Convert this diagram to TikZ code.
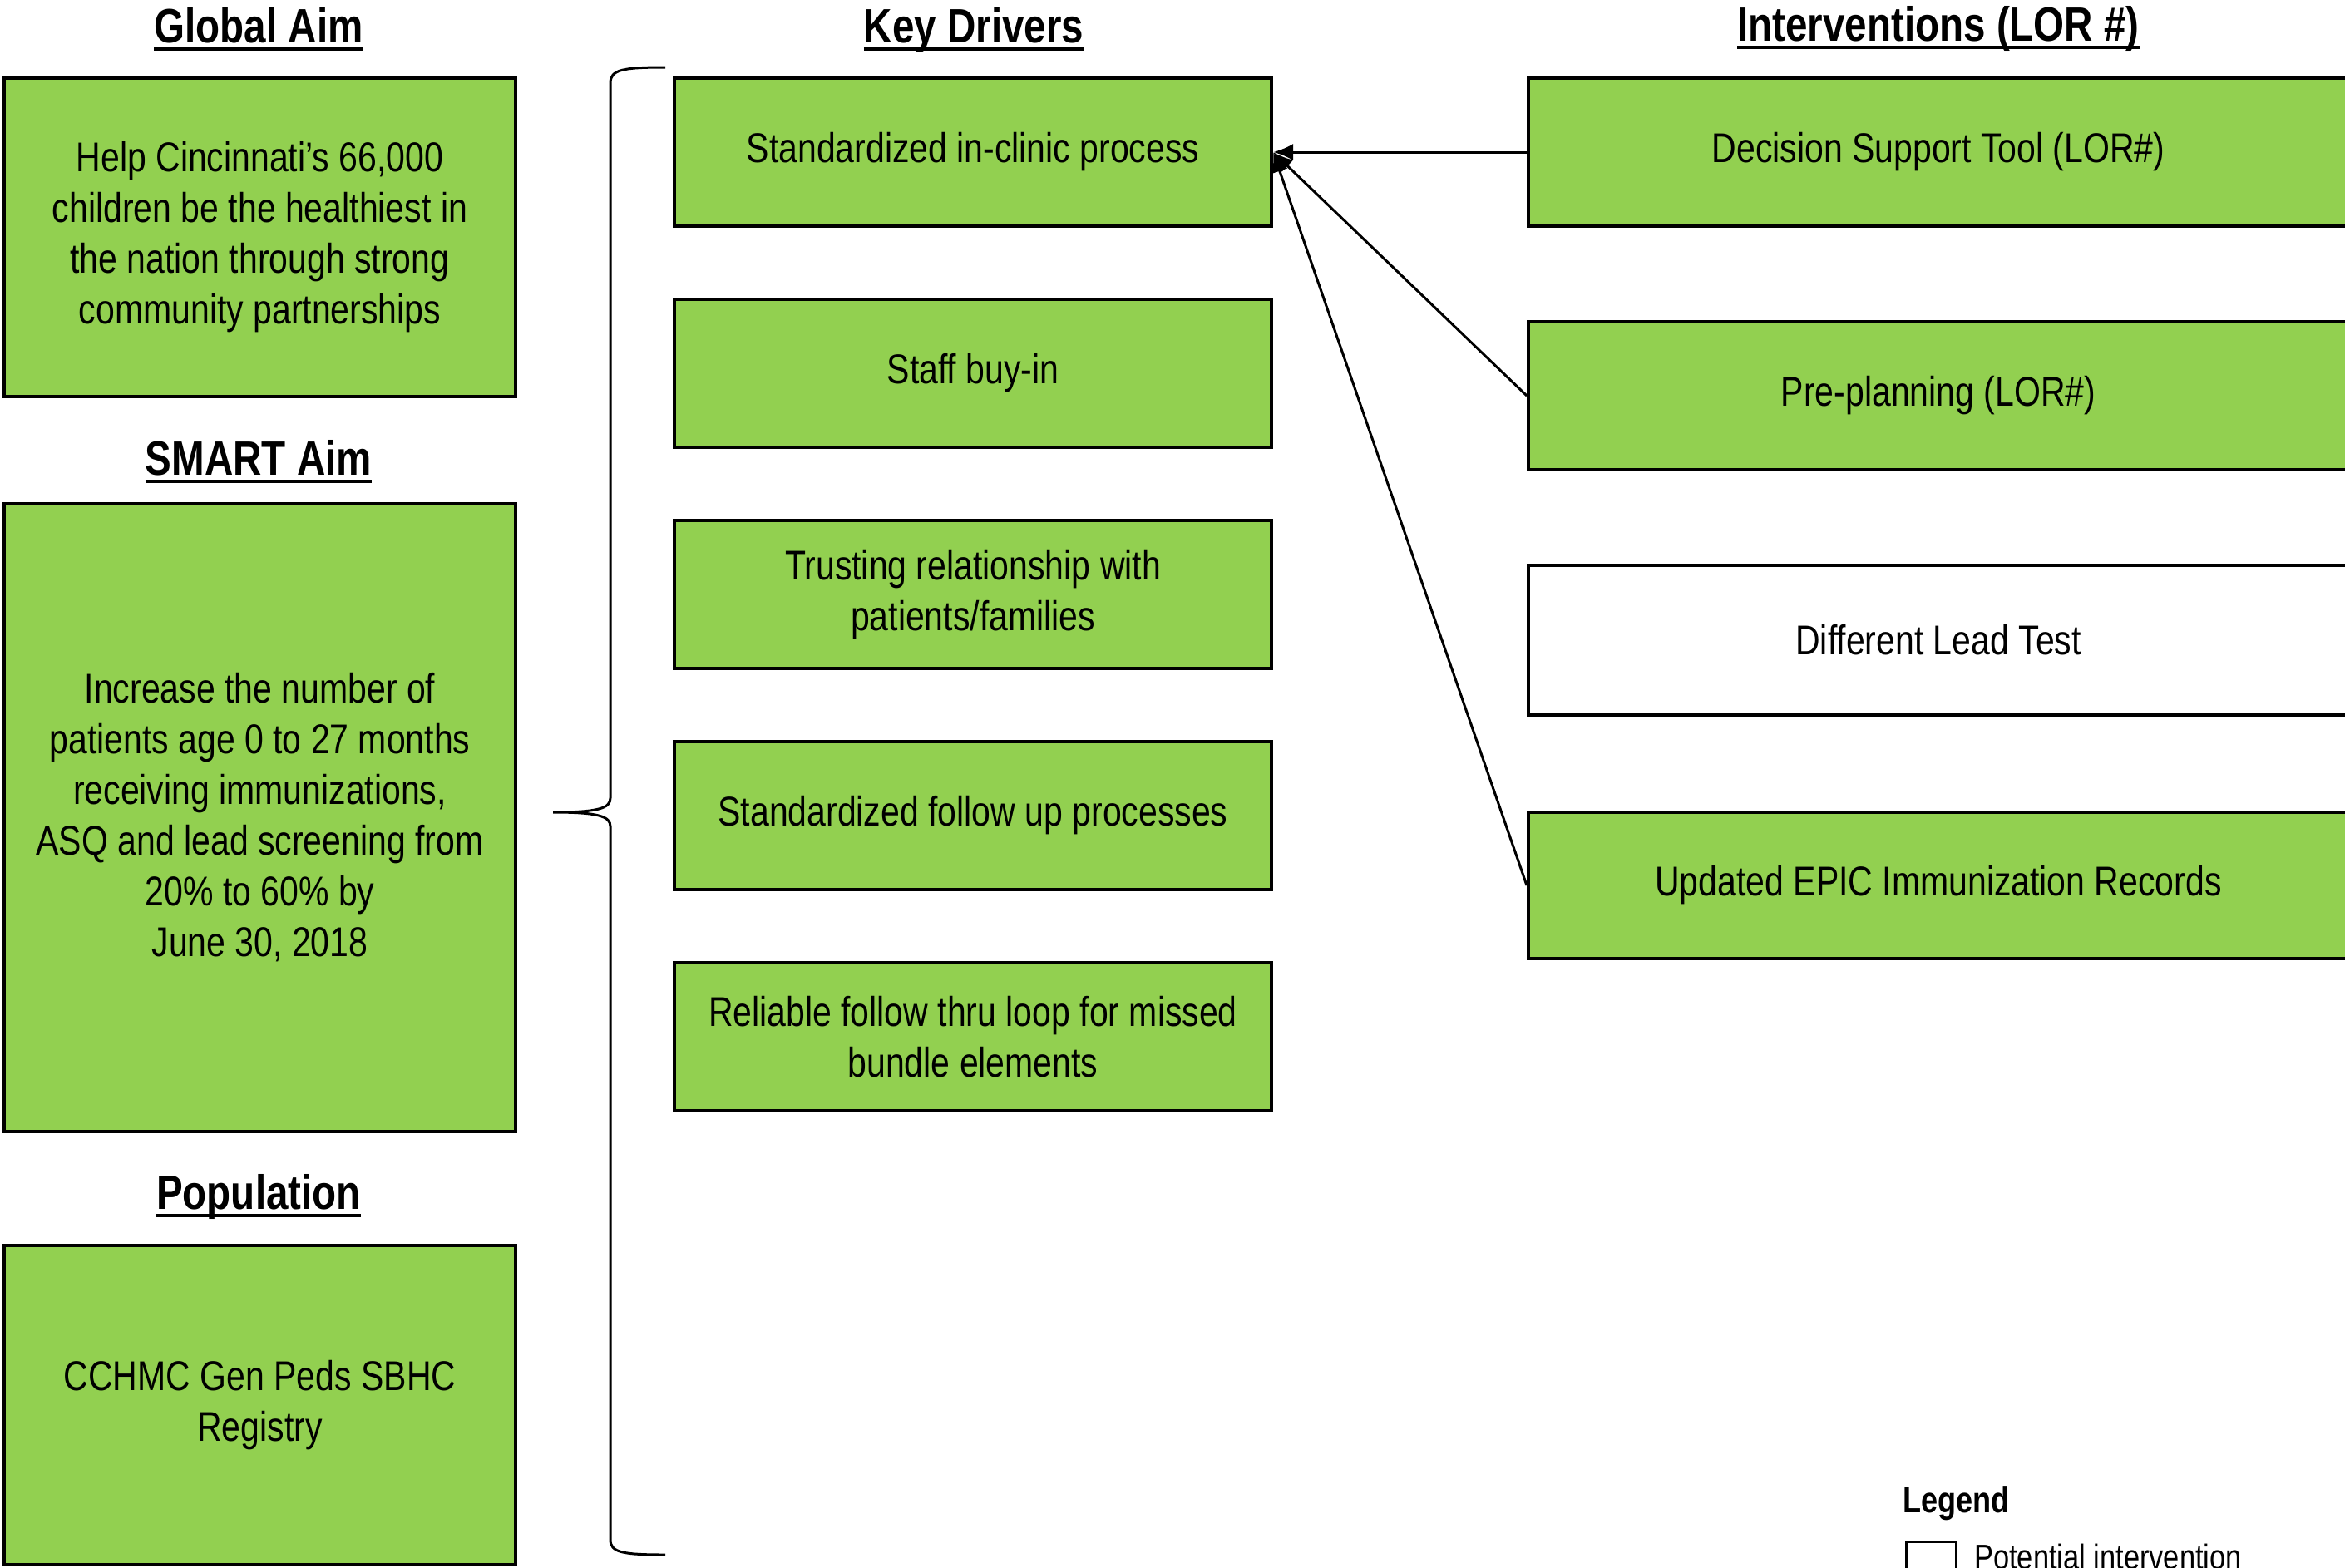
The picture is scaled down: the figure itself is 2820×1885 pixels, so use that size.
\documentclass[tikz,border=0pt]{standalone}
\usepackage{fontspec}
\setmainfont[FakeStretch=0.82]{Liberation Sans}
\usetikzlibrary{arrows.meta}
\definecolor{boxgreen}{HTML}{92D050}
\newcommand\hdul[1]{\setbox0\hbox{#1}\leavevmode\rlap{\rule[-10pt]{\wd0}{4pt}}\box0}
\tikzset{
  box/.style={draw=black, line width=4pt, fill=boxgreen, align=center, inner sep=0pt,
    font=\fontsize{50}{61}\selectfont},
  wbox/.style={box, fill=white},
  head/.style={font=\fontsize{58}{64}\selectfont\bfseries, inner sep=0pt, anchor=base},
  conn/.style={line width=3pt, -{Latex[length=24pt,width=20pt]}},
  brace/.style={line width=3pt}
}
\begin{document}
\begin{tikzpicture}[x=1pt,y=-1pt]
\useasboundingbox (0,0) rectangle (2820,1885);
% headings
\node[head] (hga) at (311,51) {\hdul{Global Aim}};
\node[head] (hsa) at (311,571) {\hdul{SMART Aim}};
\node[head] (hpop) at (311,1454) {\hdul{Population}};
\node[head] (hkd) at (1171,51) {\hdul{Key Drivers}};
\node[head] (hint) at (2331,49) {\hdul{Interventions (LOR \#)}};
% left column
\node[box, minimum width=615pt, minimum height=383pt] (ga) at (312.5,285.5)
  {Help Cincinnati’s 66,000\\children be the healthiest in\\the nation through strong\\community partnerships};
\node[box, minimum width=615pt, minimum height=755pt] (sa) at (312.5,983.5)
  {Increase the number of\\patients age 0 to 27 months\\receiving immunizations,\\ASQ and lead screening from\\20\% to 60\% by\\June 30, 2018};
\node[box, minimum width=615pt, minimum height=384pt] (pop) at (312.5,1690)
  {CCHMC Gen Peds SBHC\\Registry};
% brace
\draw[brace] (800,81) .. controls (748,81) and (734,84) .. (734,100) -- (734,960)
  .. controls (734,972) and (720,977) .. (665,977)
  .. controls (720,977) and (734,982) .. (734,994) -- (734,1852)
  .. controls (734,1867) and (748,1870) .. (800,1870);
% key drivers
\node[box, minimum width=718pt, minimum height=178pt] (d1) at (1170,183) {Standardized in-clinic process};
\node[box, minimum width=718pt, minimum height=178pt] (d2) at (1170,449) {Staff buy-in};
\node[box, minimum width=718pt, minimum height=178pt] (d3) at (1170,715) {Trusting relationship with\\patients/families};
\node[box, minimum width=718pt, minimum height=178pt] (d4) at (1170,981) {Standardized follow up processes};
\node[box, minimum width=718pt, minimum height=178pt] (d5) at (1170,1247) {Reliable follow thru loop for missed\\bundle elements};
% interventions
\node[box, minimum width=986pt, minimum height=178pt] (i1) at (2331,183) {Decision Support Tool (LOR\#)};
\node[box, minimum width=986pt, minimum height=178pt] (i2) at (2331,476) {Pre-planning (LOR\#)};
\node[wbox, minimum width=986pt, minimum height=180pt] (i3) at (2331,770) {Different Lead Test};
\node[box, minimum width=986pt, minimum height=176pt] (i4) at (2331,1065) {Updated EPIC Immunization Records};
% connectors
\draw[conn] (i1.west) -- (d1.east);
\draw[conn] (i2.west) -- (d1.east);
\draw[conn] (i4.west) -- (d1.east);
% legend
\node[font=\fontsize{44}{48}\selectfont\bfseries, anchor=west, inner sep=0pt] (leg) at (2288,1808) {Legend};
\node[draw=black, line width=3pt, fill=white, minimum width=60pt, minimum height=60pt, inner sep=0pt, anchor=north west] (legbox) at (2291,1853) {};
\node[font=\fontsize{42}{46}\selectfont, anchor=west, inner sep=0pt] (legtxt) at (2374,1872) {Potential intervention};
\end{tikzpicture}
\end{document}
